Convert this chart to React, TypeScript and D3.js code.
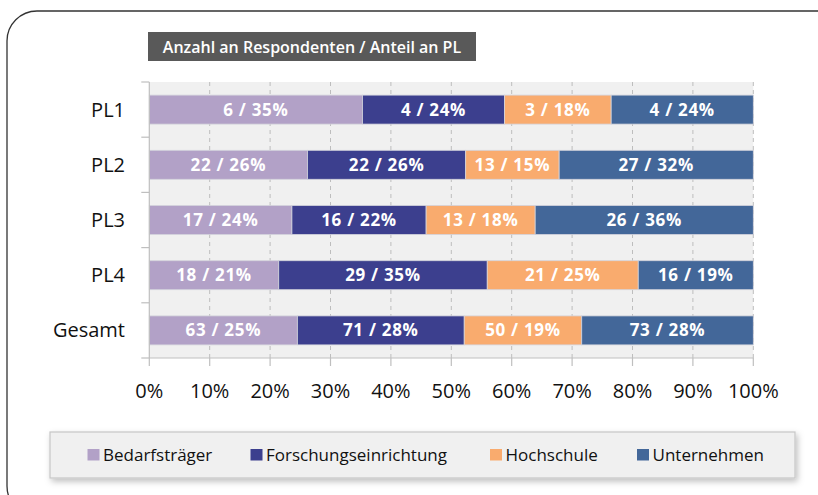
import * as d3 from 'd3';

const categories = ['PL1', 'PL2', 'PL3', 'PL4', 'Gesamt'];
const seriesNames = ['Bedarfsträger', 'Forschungseinrichtung', 'Hochschule', 'Unternehmen'];
const bedarf = [6, 22, 17, 18, 63];
const forschung = [4, 22, 16, 29, 71];
const hochschule = [3, 13, 13, 21, 50];
const unternehmen = [4, 27, 26, 16, 73];
const tickValues = [0, 0.1, 0.2, 0.3, 0.4, 0.5, 0.6, 0.7, 0.8, 0.9, 1];
const colors = ['#b2a1c7', '#3c3f8e', '#f9ab6e', '#436799'];

const W = 818;
const H = 495;
const PLOT = { left: 149.3, right: 753.3, top: 82, bottom: 358 };
const FONT = "'Open Sans', 'DejaVu Sans', sans-serif";

const legendX = [87.5, 250.5, 490, 637];

export default function App() {
  const xScale = d3.scaleLinear().domain([0, 1]).range([PLOT.left, PLOT.right]);
  const yScale = d3
    .scaleBand<string>()
    .domain(categories)
    .range([PLOT.top, PLOT.bottom])
    .padding(0);
  const band = yScale.bandwidth();
  const barH = band * 0.525;

  const rows = categories.map((c, i) => ({
    cat: c,
    values: [bedarf[i], forschung[i], hochschule[i], unternehmen[i]],
  }));

  // stack each row to 100%
  const segments = rows.flatMap((r) => {
    const total = d3.sum(r.values);
    let acc = 0;
    return r.values.map((v, j) => {
      const x0 = acc / total;
      acc += v;
      const x1 = acc / total;
      return { cat: r.cat, j, v, x0, x1, pct: Math.round((v / total) * 100) };
    });
  });

  return (
    <svg
      width={W}
      height={H}
      style={{ position: 'absolute', left: 0, top: 0, background: '#fff' }}
    >
      <defs>
        <filter id="shadow" x="-5%" y="-30%" width="110%" height="170%">
          <feDropShadow dx="2" dy="3" stdDeviation="3" floodColor="#000" floodOpacity="0.25" />
        </filter>
      </defs>

      {/* outer rounded frame */}
      <rect x={7} y={11} width={840} height={505} rx={30} fill="none" stroke="#333" strokeWidth={1.3} />

      {/* title box */}
      <rect x={148} y={32} width={328} height={29} fill="#595959" />
      <text
        x={312}
        y={52.5}
        textAnchor="middle"
        fill="#fff"
        fontFamily={FONT}
        fontWeight={600}
        fontSize={16}
      >
        Anzahl an Respondenten / Anteil an PL
      </text>

      {/* plot background */}
      <rect
        x={PLOT.left}
        y={PLOT.top}
        width={PLOT.right - PLOT.left}
        height={PLOT.bottom - PLOT.top}
        fill="#f0f0f0"
      />

      {/* gridlines */}
      {tickValues.slice(1).map((t) => (
        <line
          key={t}
          x1={xScale(t)}
          x2={xScale(t)}
          y1={PLOT.top}
          y2={PLOT.bottom}
          stroke="#bdbdbd"
          strokeWidth={1}
          strokeDasharray="4,4"
        />
      ))}

      {/* bars */}
      {segments.map((s, i) => {
        const y = (yScale(s.cat) ?? 0) + (band - barH) / 2;
        return (
          <rect
            key={i}
            x={xScale(s.x0)}
            y={y}
            width={xScale(s.x1) - xScale(s.x0)}
            height={barH}
            fill={colors[s.j]}
            stroke="#d4d4dc"
            strokeWidth={0.8}
          />
        );
      })}
      {segments.map((s, i) => {
        const cy = (yScale(s.cat) ?? 0) + band / 2;
        return (
          <text
            key={'l' + i}
            x={(xScale(s.x0) + xScale(s.x1)) / 2}
            y={cy + 6}
            textAnchor="middle"
            fill="#fff"
            fontFamily={FONT}
            fontWeight={700}
            fontSize={17}
            letterSpacing={0.7}
          >
            {`${s.v} / ${s.pct}%`}
          </text>
        );
      })}

      {/* left axis */}
      <line x1={PLOT.left} x2={PLOT.left} y1={PLOT.top} y2={PLOT.bottom} stroke="#bfbfbf" strokeWidth={1.2} />
      {categories.map((c) => (
        <line
          key={'yt' + c}
          x1={PLOT.left - 8}
          x2={PLOT.left}
          y1={yScale(c) ?? 0}
          y2={yScale(c) ?? 0}
          stroke="#bfbfbf"
          strokeWidth={1.2}
        />
      ))}
      <line x1={PLOT.left - 8} x2={PLOT.left} y1={PLOT.bottom} y2={PLOT.bottom} stroke="#bfbfbf" strokeWidth={1.2} />
      {categories.map((c) => (
        <text
          key={'yl' + c}
          x={125}
          y={(yScale(c) ?? 0) + band / 2 + 7}
          textAnchor="end"
          fill="#111"
          fontFamily={FONT}
          fontSize={20}
        >
          {c}
        </text>
      ))}

      {/* bottom axis */}
      <line x1={PLOT.left} x2={PLOT.right} y1={PLOT.bottom} y2={PLOT.bottom} stroke="#bfbfbf" strokeWidth={1.2} />
      {tickValues.map((t) => (
        <g key={'xt' + t}>
          <line
            x1={xScale(t)}
            x2={xScale(t)}
            y1={PLOT.bottom}
            y2={PLOT.bottom + 8}
            stroke="#bfbfbf"
            strokeWidth={1.2}
          />
          <text
            x={xScale(t)}
            y={398}
            textAnchor="middle"
            fill="#111"
            fontFamily={FONT}
            fontSize={20}
          >
            {d3.format('.0%')(t)}
          </text>
        </g>
      ))}

      {/* legend */}
      <rect x={50} y={432} width={745} height={46} fill="#f0f0f0" stroke="#c6c6c6" strokeWidth={1.2} filter="url(#shadow)" />
      {seriesNames.map((n, i) => (
        <g key={n}>
          <rect x={legendX[i]} y={449} width={12} height={11.5} fill={colors[i]} />
          <text
            x={legendX[i] + 15.5}
            y={461}
            fill="#111"
            fontFamily={FONT}
            fontSize={17}
          >
            {n}
          </text>
        </g>
      ))}
    </svg>
  );
}
